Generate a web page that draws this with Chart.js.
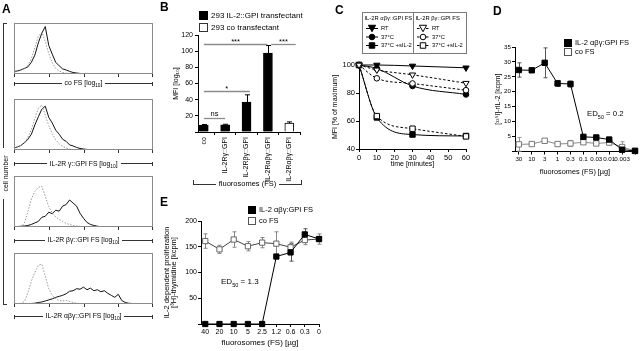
<!DOCTYPE html>
<html><head><meta charset="utf-8">
<script src="https://cdn.jsdelivr.net/npm/chart.js@4.4.1/dist/chart.umd.min.js"></script>
<style>
body{margin:0;background:#fff;}
#wrap{position:relative;width:640px;height:351px;overflow:hidden;background:#fff;font-family:'Liberation Sans',Arial,Helvetica,sans-serif;color:#000;-webkit-font-smoothing:antialiased;transform:translateZ(0);will-change:transform;}
canvas{position:absolute;}
.t{position:absolute;white-space:nowrap;line-height:1;color:#000;}
.plab{position:absolute;font-weight:bold;font-size:12px;line-height:1;}
.sq{position:absolute;box-sizing:border-box;border:1px solid #000;}
sub,sup{font-size:0.7em;line-height:0;}
</style></head><body><div id="wrap"></div>
<script>
// ================= DATA =================
// Panel A: flow cytometry histograms (x = log10 decades, y = % of box height)
const histX = [0,0.1,0.2,0.3,0.4,0.5,0.6,0.7,0.8,0.9,1,1.1,1.2,1.3,1.4,1.5,1.6,1.7,1.8,1.9,2,2.1,2.2,2.3,2.4,2.5,2.6,2.7,2.8,2.9,3,3.1,3.2,3.3,3.4,3.5,3.6,3.7,3.8,3.9,4];
const histTicks = [0,1,2,3,4];
const histTitles = ['co FS [log<sub>10</sub>]','IL-2R γ::GPI FS [log<sub>10</sub>]','IL-2R βγ::GPI FS [log<sub>10</sub>]','IL-2R αβγ::GPI FS [log<sub>10</sub>]'];
const histCoSolid   = [5,6,8,11,14,23,37,61,80,93, 56,39,23,16,10,8,5,3,2,1, 0.5,0,0,0,0,0,0,0,0,0, 0,0,0,0,0,0,0,0,0,0, 0];
const histCoDotted  = [4,5,7,11,17,30,52,74,82,64, 40,22,11,6,3,1.5,1,0.5,0,0, 0,0,0,0,0,0,0,0,0,0, 0,0,0,0,0,0,0,0,0,0, 0];
const histGSolid    = [4,6,9,14,21,31,49,65,80,86, 64,53,39,31,21,17,10,8,5,3, 2,1,0.5,0,0,0,0,0,0,0, 0,0,0,0,0,0,0,0,0,0, 0];
const histGDotted   = [4,6,9,15,25,40,62,82,88,68, 48,32,20,12,7,4,2,1,0.5,0, 0,0,0,0,0,0,0,0,0,0, 0,0,0,0,0,0,0,0,0,0, 0];
const histBGSolid   = [1,1,1.5,2,3,5,8,11,19,21, 29,26,33,31,41,44,53,47,41,27, 17,9,5,3,1.5,0.5,0,0,0,0, 0,0,0,0,0,0,0,0,0,0, 0];
const histBGDotted  = [0,0,0.5,8,30,55,70,78,80,60, 40,28,20,15,11,7,5,3,2,1, 0.5,0,0,0,0,0,0,0,0,0, 0,0,0,0,0,0,0,0,0,0, 0];
const histABGSolid  = [0,0,0,0,0.5,1,1.5,3,4,6, 8,10,13,15,17,20,25,26,30,29, 33,28,31,26,28,24,26,21,17,13, 19,7,3,1.5,1,0.5,0,0,0,0, 0];
const histABGDotted = [0,0,1,5,22,45,62,76,78,55, 30,17,10,7,6,7,5,3,1.5,0.5, 0,0,0,0,0,0,0,0,0,0, 0,0,0,0,0,0,0,0,0,0, 0];

// Panel B: MFI bars
const bCategories = ['co','IL-2Rγ::GPI','IL-2Rβγ::GPI','IL-2Rαβγ::GPI','IL-2Rαβγ::GPI'];
const bValues = [8.5, 9, 37, 97.5, 11];
const bErrors = [0.8, 0.6, 9, 9.5, 1.5];
const bIsControl = [false, false, false, false, true];
const bSigFrom  = [0, 0, 0, 3.15];
const bSigTo    = [1, 2.15, 2.97, 4.3];
const bSigLevel = [17, 51, 109, 109];
const bSigText  = ['ns', '*', '***', '***'];

// Panel C: MFI over time
const cTime = [0, 10, 30, 60];
const cAbgRT   = [100, 100, 99.3, 98];
const cAbg37   = [100, 97.5, 85, 79];
const cAbgSIL2 = [100, 62.5, 50.3, 49.3];
const cBgRT    = [100, 96.5, 93, 87];
const cBg37    = [100, 90.5, 86.8, 82];
const cBgSIL2  = [100, 63.5, 54.5, 49];
const cLegendHeaders = ['IL-2R αβγ::GPI FS', 'IL-2R βγ::GPI FS'];
const cLegendRows = ['RT', '37°C', '37°C +sIL-2'];

// Panel D: 125I-rIL-2 binding
const dDoses = ['30','10','3','1','0.3','0.1','0.03','0.01','0.003',''];
const dIL2    = [27.3, 27.2, 29.7, 22.8, 22.6, 4.9, 4.7, 4.0, 0.6, 0.2];
const dIL2Err = [2.4, 0, 5, 1, 1, 0.6, 0.5, 0.5, 0, 0];
const dCo     = [2.4, 2.5, 3.6, 2.5, 2.7, 3.1, 2.7, 3.0, 1.5, 0.2];
const dCoErr  = [2.3, 0.3, 0.3, 0.3, 1.0, 0.4, 0.5, 0.8, 1.8, 0];

// Panel E: proliferation
const eDoses = ['40','20','10','5','2.5','1.2','0.6','0.3','0'];
const eIL2    = [0, 0, 0, 0, 0, 131, 139, 174, 165];
const eIL2Err = [0, 0, 0, 0, 0, 4, 17, 11, 0];
const eCo     = [161, 145, 164, 151, 158, 156, 149, 163, 165];
const eCoErr  = [14, 8, 15, 9, 10, 23, 10, 9, 10];

// ================= SETUP =================
const FONT = "'Liberation Sans', Arial, Helvetica, sans-serif";
Chart.defaults.font.family = FONT;
Chart.defaults.font.size = 7;
Chart.defaults.color = '#000';
Chart.defaults.animation = false;
Chart.defaults.responsive = false;
Chart.defaults.maintainAspectRatio = false;
Chart.defaults.events = [];
Chart.defaults.plugins.legend.display = false;
Chart.defaults.plugins.tooltip.enabled = false;

const wrap = document.getElementById('wrap');
function mkCanvas(left, top, w, h) {
  const c = document.createElement('canvas');
  c.width = w; c.height = h;
  c.style.left = left + 'px'; c.style.top = top + 'px';
  c.style.width = w + 'px'; c.style.height = h + 'px';
  wrap.appendChild(c); return c;
}
function txt(x, cy, html, size, extra) {
  const d = document.createElement('div');
  d.className = 't';
  d.style.left = x + 'px'; d.style.top = (cy - size / 2) + 'px';
  d.style.fontSize = size + 'px';
  if (extra) d.style.cssText += extra;
  d.innerHTML = html; wrap.appendChild(d); return d;
}
function plab(x, y, s) { const d = document.createElement('div'); d.className = 'plab'; d.style.left = x + 'px'; d.style.top = y + 'px'; d.textContent = s; wrap.appendChild(d); }
function sq(x, y, w, h, bg, bc) { const d = document.createElement('div'); d.className = 'sq'; d.style.cssText += `left:${x}px;top:${y}px;width:${w}px;height:${h}px;background:${bg};border-color:${bc};`; wrap.appendChild(d); }
function bracket(x1, x2, y, html, size, tick) {
  const d = document.createElement('div');
  d.style.cssText = `position:absolute;left:${x1}px;top:${y - size / 2}px;width:${x2 - x1}px;height:${size}px;display:flex;align-items:center;font-size:${size}px;line-height:1;white-space:nowrap;color:#000;`;
  d.innerHTML = `<span style="flex:1;height:0;border-top:1px solid #333"></span><span style="padding:0 3px">${html}</span><span style="flex:1;height:0;border-top:1px solid #333"></span>`;
  wrap.appendChild(d);
  [x1, x2 - 1].forEach(x => {
    const t = document.createElement('div');
    t.style.cssText = `position:absolute;left:${x}px;top:${tick === 'up' ? y - 4 : y - 2}px;width:0;height:4px;border-left:1px solid #333;`;
    wrap.appendChild(t);
  });
}

const axisBase = () => ({
  border: { color: '#000', width: 1 },
  grid: { drawOnChartArea: false, drawTicks: true, tickLength: 3, color: '#000' },
});

// error bar plugin (uses the chart's own scales)
const errorBars = {
  id: 'errorBars',
  beforeDatasetsDraw(chart) {
    const ctx = chart.ctx, y = chart.scales.y;
    chart.data.datasets.forEach((ds, i) => {
      if (!ds.errorBars) return;
      const meta = chart.getDatasetMeta(i);
      const cap = ds.errorCap || 2;
      meta.data.forEach((el, j) => {
        const err = ds.errorBars[j]; if (!err) return;
        const v = ds.data[j]; const val = (typeof v === 'object') ? v.y : v;
        const px = Math.round(el.x) + 0.5;
        const top = y.getPixelForValue(val + err);
        const bot = ds.errorUpperOnly ? y.getPixelForValue(val) : y.getPixelForValue(val - err);
        ctx.save(); ctx.strokeStyle = ds.errorColor || '#000'; ctx.lineWidth = 1;
        ctx.beginPath(); ctx.moveTo(px, top); ctx.lineTo(px, bot);
        ctx.moveTo(px - cap, top); ctx.lineTo(px + cap, top);
        if (!ds.errorUpperOnly) { ctx.moveTo(px - cap, bot); ctx.lineTo(px + cap, bot); }
        ctx.stroke(); ctx.restore();
      });
    });
  }
};

// ================= PANEL LABELS =================
plab(2, 3, 'A'); plab(160, 1, 'B'); plab(335, 4, 'C'); plab(493, 5, 'D'); plab(160, 196, 'E');

// ================= PANEL A =================
const histFrame = {
  id: 'histFrame',
  afterDraw(chart) {
    const { ctx, chartArea: a } = chart; const x = chart.scales.x;
    ctx.save(); ctx.strokeStyle = '#8a8a8a'; ctx.lineWidth = 1;
    ctx.strokeRect(a.left + 0.5, a.top + 0.5, a.right - a.left - 1, a.bottom - a.top - 1);
    ctx.strokeStyle = '#333';
    histTicks.forEach(v => {
      const px = Math.min(Math.round(x.getPixelForValue(v)), a.right - 1) + 0.5;
      ctx.beginPath(); ctx.moveTo(px, a.bottom); ctx.lineTo(px, a.bottom + 3); ctx.stroke();
    });
    ctx.restore();
  }
};
const histPanels = [
  { solid: histCoSolid, dotted: histCoDotted },
  { solid: histGSolid, dotted: histGDotted },
  { solid: histBGSolid, dotted: histBGDotted },
  { solid: histABGSolid, dotted: histABGDotted },
];
const histBoxes = [[23, 74, 83.5], [99, 150, 164], [176, 227, 240.5], [253, 304, 316.5]];
histPanels.forEach((p, k) => {
  const [t, b, br] = histBoxes[k];
  const c = mkCanvas(0, t - 3, 160, b - t + 8);
  new Chart(c, {
    type: 'line',
    data: { datasets: [
      { data: histX.map((x, i) => ({ x, y: p.dotted[i] })), borderColor: '#9a9a9a', borderWidth: 1, borderDash: [1.5, 1.5], pointRadius: 0 },
      { data: histX.map((x, i) => ({ x, y: p.solid[i] })), borderColor: '#111', borderWidth: 1, pointRadius: 0 },
    ]},
    options: {
      layout: { padding: { left: 14, right: 7, top: 3, bottom: 5 } },
      scales: { x: { type: 'linear', min: 0, max: 4, display: false }, y: { min: 0, max: 100, display: false } }
    },
    plugins: [histFrame]
  });
  bracket(14, 153, br, histTitles[k], 6.8, 'mid');
});
// cell number bracket
(function () {
  const mk = (css) => { const d = document.createElement('div'); d.style.cssText = 'position:absolute;' + css; wrap.appendChild(d); };
  mk('left:3px;top:23px;width:0;height:125px;border-left:1px solid #333;');
  mk('left:3px;top:199px;width:0;height:105px;border-left:1px solid #333;');
  mk('left:3px;top:23px;width:4px;height:0;border-top:1px solid #333;');
  mk('left:3px;top:304px;width:4px;height:0;border-top:1px solid #333;');
  const d = txt(5, 173, 'cell number', 7, 'transform:translate(-50%,0) rotate(-90deg);transform-origin:50% 50%;');
  d.style.left = '5px';
})();

// ================= PANEL B =================
const sigPlugin = {
  id: 'sig',
  afterDatasetsDraw(chart) {
    const { ctx } = chart; const x = chart.scales.x, y = chart.scales.y;
    ctx.save();
    bSigFrom.forEach((f, i) => {
      const x1 = x.getPixelForValue(f), x2 = x.getPixelForValue(bSigTo[i]);
      const py = Math.round(y.getPixelForValue(bSigLevel[i])) + 0.5;
      ctx.strokeStyle = '#8c8c8c'; ctx.lineWidth = 1.3;
      ctx.beginPath(); ctx.moveTo(x1, py); ctx.lineTo(x2, py); ctx.stroke();
      ctx.fillStyle = '#000'; ctx.font = '7.5px ' + FONT; ctx.textAlign = 'center'; ctx.textBaseline = 'bottom';
      ctx.fillText(bSigText[i], (x1 + x2) / 2, py - (bSigText[i] === 'ns' ? 0.5 : -1.5));
    });
    ctx.restore();
  }
};
(function () {
  const H = 195;
  const c = mkCanvas(160, 0, 150, H);
  new Chart(c, {
    type: 'bar',
    data: { datasets: [{
      data: bValues.map((v, i) => ({ x: i, y: v })),
      backgroundColor: bIsControl.map(cn => cn ? '#fff' : '#000'),
      borderColor: '#000', borderWidth: 1, barThickness: 9,
      errorBars: bErrors, errorUpperOnly: true, errorColor: '#000', errorCap: 2.5
    }]},
    options: {
      layout: { padding: { left: 0, right: 10, top: 35, bottom: 0 } },
      scales: {
        x: Object.assign(axisBase(), {
          type: 'linear', min: -0.27, max: 4.5, offset: false,
          afterBuildTicks(s) { s.ticks = bCategories.map((_, i) => ({ value: i })); },
          ticks: { minRotation: 90, maxRotation: 90, autoSkip: false, padding: 2, font: { size: 7 }, callback: (v) => bCategories[v] },
          afterFit(s) { s.height = H - 132; }
        }),
        y: Object.assign(axisBase(), {
          min: 0, max: 120,
          ticks: { stepSize: 20, padding: 2, font: { size: 7 }, callback: v => v === 0 ? '' : v },
          title: { display: true, text: 'MFI [log₁₀]', font: { size: 7 }, padding: { top: 12, bottom: 0 } },
          afterFit(s) { s.width = 38; }
        })
      }
    },
    plugins: [errorBars, sigPlugin]
  });
  sq(199, 11, 9, 9, '#000', '#000');
  txt(211, 15.5, '293 IL-2::GPI transfectant', 8);
  sq(199, 23, 9, 9, '#fff', '#333');
  txt(211, 27.5, '293 co transfectant', 8);
  bracket(193, 302, 184, 'fluorosomes (FS)', 7.5, 'up');
})();

// ================= PANEL C =================
const cLegend = {
  id: 'cLegend',
  afterDraw(chart) {
    const ctx = chart.ctx;
    ctx.save();
    ctx.strokeStyle = '#7a7a7a'; ctx.lineWidth = 1;
    ctx.strokeRect(42.5, 12.5, 104, 41);
    ctx.beginPath(); ctx.moveTo(93.5, 12.5); ctx.lineTo(93.5, 53.5); ctx.stroke();
    ctx.font = '5.8px ' + FONT; ctx.fillStyle = '#000'; ctx.textBaseline = 'middle'; ctx.textAlign = 'left';
    ctx.fillText(cLegendHeaders[0], 44.5, 18); ctx.fillText(cLegendHeaders[1], 95.5, 18);
    const rowsY = [28.5, 37, 45.5];
    chart.data.datasets.forEach((ds, i) => {
      const col = ds.legendCol, row = ds.legendRow;
      const x0 = col ? 97 : 46, y = rowsY[row];
      ctx.save(); ctx.strokeStyle = '#000'; ctx.lineWidth = 1; ctx.setLineDash(ds.borderDash || []);
      ctx.beginPath(); ctx.moveTo(x0, y); ctx.lineTo(x0 + 12, y); ctx.stroke(); ctx.restore();
      const cx = x0 + 6, r = ds.pointRadius;
      ctx.fillStyle = ds.pointBackgroundColor; ctx.strokeStyle = '#000'; ctx.lineWidth = 1;
      ctx.beginPath();
      if (ds.pointStyle === 'triangle') { const h = r * 0.9; ctx.moveTo(cx - r, y - h); ctx.lineTo(cx + r, y - h); ctx.lineTo(cx, y + h); ctx.closePath(); }
      else if (ds.pointStyle === 'circle') { ctx.arc(cx, y, r, 0, Math.PI * 2); }
      else { const s = r * 0.72; ctx.rect(cx - s, y - s, 2 * s, 2 * s); }
      ctx.fill(); ctx.stroke();
      ctx.fillStyle = '#000'; ctx.font = '5.8px ' + FONT;
      ctx.fillText(ds.label, x0 + 15, y);
    });
    ctx.restore();
  }
};
(function () {
  const H = 180;
  const c = mkCanvas(320, 0, 160, H);
  const mkDs = (label, vals, style, filled, dashed, col, row, r, rot) => ({
    label, data: cTime.map((t, i) => ({ x: t, y: vals[i] })),
    borderColor: '#000', borderWidth: 1, borderDash: dashed ? [2.5, 2] : [],
    pointStyle: style, pointRadius: r, pointRotation: rot || 0,
    pointBackgroundColor: filled ? '#000' : '#fff', pointBorderColor: '#000', pointBorderWidth: 1,
    cubicInterpolationMode: 'monotone', clip: false, legendCol: col, legendRow: row
  });
  new Chart(c, {
    type: 'line',
    data: { datasets: [
      mkDs(cLegendRows[0], cBgRT, 'triangle', false, true, 1, 0, 3.6, 180),
      mkDs(cLegendRows[1], cBg37, 'circle', false, true, 1, 1, 2.8),
      mkDs(cLegendRows[2], cBgSIL2, 'rect', false, true, 1, 2, 3.8),
      mkDs(cLegendRows[0], cAbgRT, 'triangle', true, false, 0, 0, 3.6, 180),
      mkDs(cLegendRows[1], cAbg37, 'circle', true, false, 0, 1, 2.8),
      mkDs(cLegendRows[2], cAbgSIL2, 'rect', true, false, 0, 2, 3.8),
    ]},
    options: {
      layout: { padding: { left: 0, right: 14, top: 65, bottom: 0 } },
      scales: {
        x: Object.assign(axisBase(), {
          type: 'linear', min: 0, max: 60,
          ticks: { stepSize: 10, padding: 1, font: { size: 7.5 }, maxRotation: 0, autoSkip: false },
          title: { display: true, text: 'time [minutes]', font: { size: 7 }, padding: { top: 0, bottom: 12 } },
          afterFit(s) { s.height = H - 149; }
        }),
        y: Object.assign(axisBase(), {
          min: 40, max: 100,
          ticks: { stepSize: 20, padding: 1, font: { size: 7.5 } },
          title: { display: true, text: 'MFI [% of maximum]', font: { size: 7 }, padding: { top: 11, bottom: 0 } },
          afterFit(s) { s.width = 39; }
        })
      }
    },
    plugins: [cLegend]
  });
})();

// ================= PANEL D =================
(function () {
  const H = 180;
  const c = mkCanvas(480, 0, 160, H);
  new Chart(c, {
    type: 'line',
    data: { datasets: [
      { label: 'IL-2 αβγ:GPI FS', data: dIL2.map((v, i) => ({ x: i, y: v })), borderColor: '#000', borderWidth: 1,
        pointStyle: 'rect', pointRadius: 3.8, pointBackgroundColor: '#000', pointBorderColor: '#000', clip: false,
        errorBars: dIL2Err, errorColor: '#555', errorCap: 2 },
      { label: 'co FS', data: dCo.map((v, i) => ({ x: i, y: v })), borderColor: '#8a8a8a', borderWidth: 1,
        pointStyle: 'rect', pointRadius: 3.8, pointBackgroundColor: '#fff', pointBorderColor: '#777', clip: false,
        errorBars: dCoErr, errorColor: '#999', errorCap: 2 },
    ]},
    options: {
      layout: { padding: { left: 0, right: 2, top: 47, bottom: 0 } },
      scales: {
        x: Object.assign(axisBase(), {
          type: 'linear', min: -0.3, max: 9,
          afterBuildTicks(s) { s.ticks = dDoses.map((_, i) => ({ value: i })); },
          ticks: { padding: 1, font: { size: 6.2 }, maxRotation: 0, autoSkip: false, callback: v => dDoses[v] },
          title: { display: true, text: 'fluorosomes (FS) [µg]', font: { size: 7.3 }, padding: { top: 0, bottom: 3.5 } },
          afterFit(s) { s.height = H - 151.5; }
        }),
        y: Object.assign(axisBase(), {
          min: 0, max: 35,
          ticks: { stepSize: 5, padding: 1, font: { size: 6.2 }, callback: v => v === 0 ? '' : v },
          title: { display: true, text: '[¹²⁵I]-rIL-2 [kcpm]', font: { size: 6.8 }, padding: { top: 14, bottom: 0 } },
          afterFit(s) { s.width = 35; }
        })
      }
    },
    plugins: [errorBars]
  });
  sq(564, 39, 8, 8, '#000', '#000');
  txt(575, 43, 'IL-2 αβγ:GPI FS', 7.5);
  sq(564, 48, 8, 8, '#fff', '#555');
  txt(575, 52, 'co FS', 7.5);
  txt(587, 114, 'ED<sub>50</sub> = 0.2', 7.8);
})();

// ================= PANEL E =================
(function () {
  const H = 161;
  const c = mkCanvas(160, 190, 200, H);
  new Chart(c, {
    type: 'line',
    data: { datasets: [
      { label: 'IL-2 αβγ:GPI FS', data: eIL2.map((v, i) => ({ x: i, y: v })), borderColor: '#000', borderWidth: 1,
        pointStyle: 'rect', pointRadius: 3.7, pointBackgroundColor: '#000', pointBorderColor: '#000', clip: false,
        errorBars: eIL2Err, errorColor: '#555', errorCap: 2 },
      { label: 'co FS', data: eCo.map((v, i) => ({ x: i, y: v })), borderColor: '#444', borderWidth: 1,
        pointStyle: 'rect', pointRadius: 3.7, pointBackgroundColor: '#fff', pointBorderColor: '#666', clip: false,
        errorBars: eCoErr, errorColor: '#888', errorCap: 2 },
    ]},
    options: {
      layout: { padding: { left: 0, right: 41, top: 31, bottom: 0 } },
      scales: {
        x: Object.assign(axisBase(), {
          type: 'linear', min: -0.3, max: 8,
          afterBuildTicks(s) { s.ticks = eDoses.map((_, i) => ({ value: i })); },
          ticks: { padding: 1, font: { size: 7 }, maxRotation: 0, autoSkip: false, callback: v => eDoses[v] },
          title: { display: true, text: 'fluorosomes (FS) [µg]', font: { size: 8 }, padding: { top: 0, bottom: 3.5 } },
          afterFit(s) { s.height = H - 134; }
        }),
        y: Object.assign(axisBase(), {
          min: 0, max: 200,
          ticks: { stepSize: 50, padding: 1, font: { size: 7 }, callback: v => v === 0 ? '' : v },
          title: { display: true, text: ['IL-2 dependent proliferation', '[³H]-thymidine [kcpm]'], font: { size: 7.5, lineHeight: 1 }, padding: { top: 3, bottom: 0 } },
          afterFit(s) { s.width = 41; }
        })
      }
    },
    plugins: [errorBars]
  });
  sq(248, 206, 8, 8, '#000', '#000');
  txt(259, 210, 'IL-2 αβγ:GPI FS', 7.5);
  sq(248, 217, 8, 8, '#fff', '#555');
  txt(259, 221, 'co FS', 7.5);
  txt(221, 282, 'ED<sub>50</sub> = 1.3', 8);
})();
</script>
</body></html>
